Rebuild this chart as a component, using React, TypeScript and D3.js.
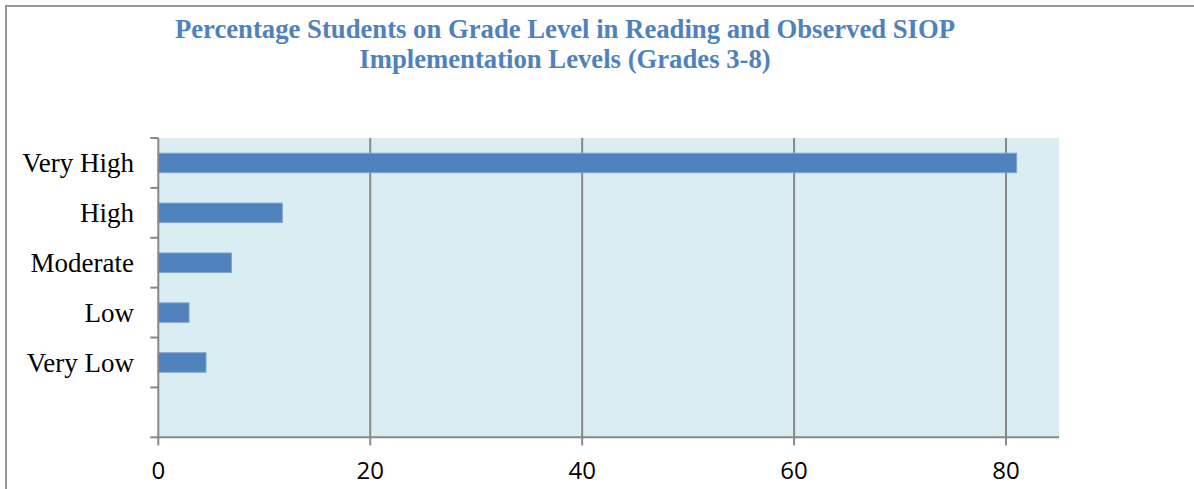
import React from "react";
import * as d3 from "d3";

const categories = ["Very High", "High", "Moderate", "Low", "Very Low", ""];
const values = [81, 11.7, 6.9, 2.9, 4.5, null];
const xTicks = [0, 20, 40, 60, 80];
const titleLines = [
  "Percentage Students on Grade Level in Reading and Observed SIOP",
  "Implementation Levels (Grades 3-8)",
];

export default function App() {
  const W = 1194;
  const H = 489;
  const left = 158.3;
  const right = 1059;
  const top = 138;
  const bottom = 437.3;

  const x = d3.scaleLinear().domain([0, 85]).range([left, right]);
  const y = d3
    .scaleBand<string>()
    .domain(categories.map((c, i) => String(i)))
    .range([top, bottom])
    .paddingInner(0.61)
    .paddingOuter(0.305);

  const step = y.step();
  const grid = "#888888";
  const boundaries = d3.range(categories.length + 1).map((i) => top + i * step);

  return (
    <svg
      width={W}
      height={H}
      style={{ position: "absolute", left: 0, top: 0, background: "#fff" }}
    >
      <rect x={6} y={6} width={W + 10} height={H + 10} fill="#fff" stroke="#999" strokeWidth={2} />
      {titleLines.map((t, i) => (
        <text
          key={i}
          x={565}
          y={38 + i * 30}
          textAnchor="middle"
          fontFamily="'Liberation Serif', 'Times New Roman', serif"
          fontWeight="bold"
          fontSize={26.7}
          fill="#4F81BD"
        >
          {t}
        </text>
      ))}
      <rect x={left} y={top} width={right - left} height={bottom - top} fill="#DAEDF3" />
      {xTicks
        .filter((v) => v > 0)
        .map((v) => (
          <line key={v} x1={x(v)} x2={x(v)} y1={top} y2={bottom} stroke={grid} strokeWidth={2} />
        ))}
      {values.map((v, i) =>
        v == null ? null : (
          <rect
            key={i}
            x={x(0)}
            y={y(String(i))!}
            width={x(v) - x(0)}
            height={y.bandwidth()}
            fill="#4F81BD"
            stroke="#7FA3CF"
            strokeWidth={1}
          />
        )
      )}
      <line x1={left} x2={left} y1={top} y2={bottom + 1} stroke={grid} strokeWidth={2} />
      <line x1={left - 1} x2={right} y1={bottom} y2={bottom} stroke={grid} strokeWidth={2} />
      {boundaries.map((b, i) => (
        <line key={i} x1={left - 8} x2={left} y1={b} y2={b} stroke={grid} strokeWidth={2} />
      ))}
      {xTicks.map((v) => (
        <line key={v} x1={x(v)} x2={x(v)} y1={bottom} y2={bottom + 8} stroke={grid} strokeWidth={2} />
      ))}
      {categories.map((c, i) => (
        <text
          key={i}
          x={134}
          y={y(String(i))! + y.bandwidth() / 2}
          dy="0.35em"
          textAnchor="end"
          fontFamily="'Liberation Serif', 'Times New Roman', serif"
          fontSize={27}
          fill="#000"
        >
          {c}
        </text>
      ))}
      {xTicks.map((v) => (
        <text
          key={v}
          x={x(v)}
          y={479}
          textAnchor="middle"
          fontFamily="'Open Sans', Lato, sans-serif"
          fontSize={24}
          fill="#000"
        >
          {v}
        </text>
      ))}
    </svg>
  );
}
